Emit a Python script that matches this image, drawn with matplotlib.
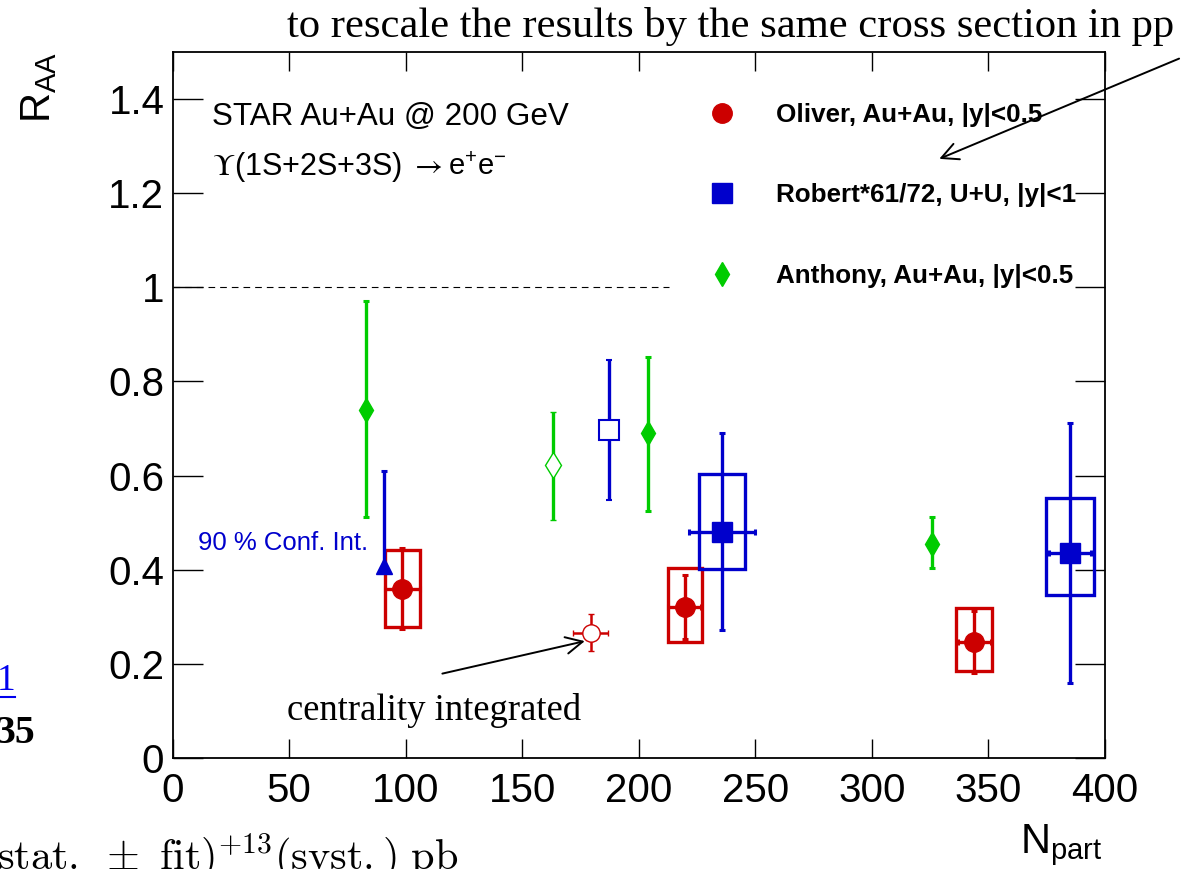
import matplotlib
matplotlib.use("Agg")
import matplotlib.pyplot as plt
from matplotlib.lines import Line2D
import numpy as np

# ---------------- data ----------------
# Oliver, Au+Au, |y|<0.5 (centrality bins)
oliver_npart = [98.4, 219.6, 343.9]
oliver_raa = [0.360, 0.321, 0.246]
oliver_stat = [0.086, 0.068, 0.066]
oliver_npart_err = [7.5, 7.0, 7.0]
oliver_sys_lo = [0.081, 0.074, 0.062]
oliver_sys_hi = [0.082, 0.083, 0.073]
oliver_box_hw = [7.5, 7.3, 7.7]
# Oliver, centrality integrated
oliver_int_npart = [179.3]
oliver_int_raa = [0.266]
oliver_int_stat = [0.039]
oliver_int_npart_err = [7.5]

# Robert*61/72, U+U, |y|<1 (centrality bins)
robert_npart = [235.7, 385.0]
robert_raa = [0.481, 0.435]
robert_stat = [0.210, 0.276]
robert_npart_err = [14.0, 9.0]
robert_sys_lo = [0.080, 0.089]
robert_sys_hi = [0.123, 0.117]
robert_box_hw = [10.0, 10.3]
# Robert, centrality integrated
robert_int_npart = [187.1]
robert_int_raa = [0.697]
robert_int_stat = [0.148]
# Robert, peripheral bin: 90 % confidence interval
robert_lim_npart = [90.5]
robert_lim_raa = [0.407]
robert_lim_upper = [0.610]

# Anthony, Au+Au, |y|<0.5 (centrality bins)
anthony_npart = [82.9, 204.0, 325.7]
anthony_raa = [0.739, 0.691, 0.455]
anthony_err_lo = [0.227, 0.167, 0.052]
anthony_err_hi = [0.232, 0.161, 0.057]
# Anthony, centrality integrated
anthony_int_npart = [163.1]
anthony_int_raa = [0.623]
anthony_int_err_lo = [0.117]
anthony_int_err_hi = [0.113]

legend_labels = ["Oliver, Au+Au, |y|<0.5",
                 "Robert*61/72, U+U, |y|<1",
                 "Anthony, Au+Au, |y|<0.5"]
x_ticks = [0, 50, 100, 150, 200, 250, 300, 350, 400]
y_ticks = [0.0, 0.2, 0.4, 0.6, 0.8, 1.0, 1.2, 1.4]
y_tick_labels = ["0", "0.2", "0.4", "0.6", "0.8", "1", "1.2", "1.4"]

# ---------------- style ----------------
plt.rcParams["font.family"] = ["Liberation Sans", "DejaVu Sans"]
plt.rcParams["mathtext.fontset"] = "custom"
plt.rcParams["mathtext.rm"] = "Liberation Sans"
plt.rcParams["mathtext.it"] = "Liberation Sans:italic"
plt.rcParams["mathtext.bf"] = "Liberation Sans:bold"

RED = "#cc0000"
BLUE = "#0000cc"
GREEN = "#00cc00"
W, H = 1189, 869


def fx(px):
    return px / W


def fy(py):
    return 1 - py / H


fig = plt.figure(figsize=(W / 100, H / 100), dpi=100)
ax = fig.add_axes([fx(172.7), fy(758), fx(1105) - fx(172.7), fy(52) - fy(758)])
ax.set_xlim(0, 400)
ax.set_ylim(0, 1.5)

ax.set_xticks(x_ticks)
ax.set_xticklabels([str(t) for t in x_ticks])
ax.set_yticks(y_ticks)
ax.set_yticklabels(y_tick_labels)
ax.tick_params(direction="in", top=True, right=True, width=1.0, labelsize=29)
ax.tick_params(axis="x", length=13.7, pad=10)
ax.tick_params(axis="y", length=21.6, pad=6)
for sp in ax.spines.values():
    sp.set_linewidth(1.3)

# reference line at R_AA = 1
ax.plot([0, 213], [1, 1], color="black", lw=0.8, ls="--", dashes=(6, 4.5))

ebkw = dict(elinewidth=2.4, capsize=2.5, capthick=2.2, ls="none")

# systematic boxes
ax.bar(oliver_npart, np.add(oliver_sys_lo, oliver_sys_hi),
       bottom=np.subtract(oliver_raa, oliver_sys_lo),
       width=np.multiply(oliver_box_hw, 2), fill=False,
       edgecolor=RED, linewidth=2.4, zorder=2)
ax.bar(robert_npart, np.add(robert_sys_lo, robert_sys_hi),
       bottom=np.subtract(robert_raa, robert_sys_lo),
       width=np.multiply(robert_box_hw, 2), fill=False,
       edgecolor=BLUE, linewidth=2.4, zorder=2)

# Anthony
ax.errorbar(anthony_npart, anthony_raa, yerr=[anthony_err_lo, anthony_err_hi],
            color=GREEN, marker="d", ms=12, zorder=3, **ebkw)
ax.errorbar(anthony_int_npart, anthony_int_raa,
            yerr=[anthony_int_err_lo, anthony_int_err_hi],
            color=GREEN, marker="d", ms=13.5, mfc="white", mec=GREEN, mew=1.0,
            zorder=3, **ebkw)

# Robert
ax.errorbar(robert_npart, robert_raa, yerr=robert_stat, xerr=robert_npart_err,
            color=BLUE, marker="s", ms=14, zorder=3, **ebkw)
ax.errorbar(robert_int_npart, robert_int_raa, yerr=robert_int_stat,
            color=BLUE, marker="s", ms=14.5, mfc="white", mec=BLUE, mew=1.5,
            zorder=3, **ebkw)
ax.errorbar(robert_lim_npart, robert_lim_raa,
            yerr=[[0.0], np.subtract(robert_lim_upper, robert_lim_raa)],
            color=BLUE, marker="^", ms=12, zorder=3, **ebkw)

# Oliver
ax.errorbar(oliver_npart, oliver_raa, yerr=oliver_stat, xerr=oliver_npart_err,
            color=RED, marker="o", ms=14, zorder=3, **ebkw)
ax.errorbar(oliver_int_npart, oliver_int_raa, yerr=oliver_int_stat,
            xerr=oliver_int_npart_err, color=RED, marker="o", ms=12.5,
            mfc="white", mec=RED, mew=1.0, zorder=3,
            elinewidth=1.8, capsize=2.5, capthick=2.0, ls="none")

# legend
handles = [Line2D([], [], ls="none", marker="o", ms=14, color=RED),
           Line2D([], [], ls="none", marker="s", ms=14, color=BLUE),
           Line2D([], [], ls="none", marker="d", ms=12, color=GREEN)]
ax.legend(handles, legend_labels, loc="upper left",
          bbox_to_anchor=(fx(709), fy(103)), bbox_transform=fig.transFigure,
          frameon=False, prop={"weight": "bold", "size": 18.7},
          handlelength=1.0, handletextpad=1.58, labelspacing=2.17,
          borderpad=0, borderaxespad=0)

# labels in the pad
fig.text(fx(212), fy(117), "STAR Au+Au @ 200 GeV", fontsize=22.6, va="center")
fig.text(fx(212), fy(167), r"$\Upsilon$(1S+2S+3S) $\rightarrow$",
         fontsize=22, va="center", math_fontfamily="stix")
fig.text(fx(448), fy(167), r"e$^{+}$e$^{-}$", fontsize=21, va="center")
fig.text(fx(198), fy(543), "90 % Conf. Int.", fontsize=18.5, color=BLUE,
         va="center")

# axis titles
fig.text(fx(39.5), fy(52), r"R$_{\mathrm{AA}}$", rotation=90, fontsize=30,
         ha="center", va="top")
fig.text(fx(1103), fy(853), r"N$_{\mathrm{part}}$", fontsize=30,
         ha="right", va="baseline")

# annotations
fig.text(fx(287), fy(37), "to rescale the results by the same cross section in pp",
         family="Liberation Serif", fontsize=30.7, va="baseline")
ax.annotate("", xy=(328.9, 1.273), xytext=(431.8, 1.486),
            arrowprops=dict(arrowstyle="->,head_length=0.6,head_width=0.3",
                            lw=1.4, color="black", mutation_scale=20,
                            shrinkA=0, shrinkB=0),
            annotation_clip=False)
fig.text(fx(287), fy(720), "centrality integrated",
         family="Liberation Serif", fontsize=26.4, va="baseline")
ax.annotate("", xy=(176.8, 0.2483), xytext=(115.7, 0.1793),
            arrowprops=dict(arrowstyle="->,head_length=0.6,head_width=0.3",
                            lw=1.4, color="black", mutation_scale=20,
                            shrinkA=0, shrinkB=0),
            annotation_clip=False)

# surrounding page text
fig.text(fx(-3), fy(690), "1", family="Liberation Serif", fontsize=27,
         color="#0000ee", va="baseline")
fig.add_artist(Line2D([0, fx(15)], [fy(697), fy(697)], color="#0000ee", lw=1.5,
                      transform=fig.transFigure))
fig.text(fx(-5), fy(743), "35", family="Liberation Serif", fontsize=28.5,
         weight="bold", va="baseline")
fig.text(fx(-3), fy(870),
         r"$\mathrm{stat.}\ \pm\ \mathrm{fit})^{+13}(\mathrm{syst.})\ \mathrm{pb}$",
         fontsize=30.5, va="baseline", math_fontfamily="cm")

fig.savefig("out.png", dpi=100)
